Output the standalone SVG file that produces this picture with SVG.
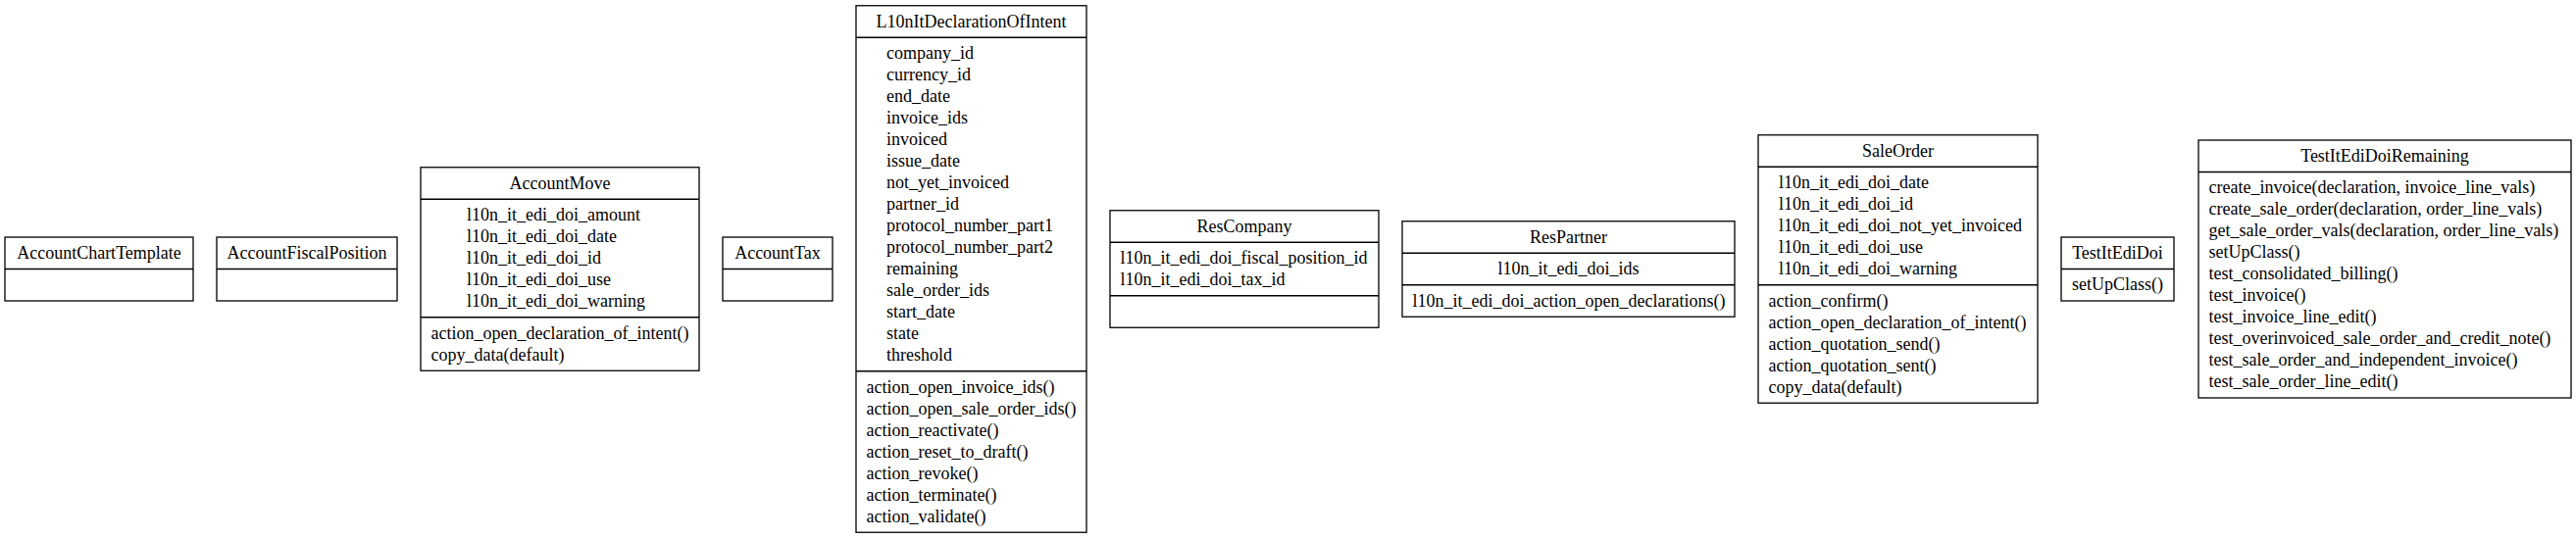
<svg xmlns="http://www.w3.org/2000/svg" width="2627" height="550" viewBox="0 0 2627 550">
<style>
.bg{fill:#fff}
.box{fill:#fff;stroke:#000;stroke-width:1.3}
.sep{stroke:#000;stroke-width:1.3}
text{font-family:"Liberation Serif","Times New Roman",serif;font-size:18px;fill:#000}
.c{text-anchor:middle}
</style>
<rect class="bg" x="0" y="0" width="2627" height="550"/>
<g id="connectors"></g>
<g id="AccountChartTemplate">
<rect class="box" x="5" y="242" width="192" height="65"/>
<line class="sep" x1="5" y1="274.5" x2="197" y2="274.5"/>
<text class="c" x="101" y="263.75">AccountChartTemplate</text>
</g>
<g id="AccountFiscalPosition">
<rect class="box" x="221" y="242" width="184" height="65"/>
<line class="sep" x1="221" y1="274.5" x2="405" y2="274.5"/>
<text class="c" x="313" y="263.75">AccountFiscalPosition</text>
</g>
<g id="AccountMove">
<rect class="box" x="429" y="170.75" width="284" height="207.5"/>
<line class="sep" x1="429" y1="203.25" x2="713" y2="203.25"/>
<line class="sep" x1="429" y1="323.75" x2="713" y2="323.75"/>
<text class="c" x="571" y="192.5">AccountMove</text>
<text x="476" y="225">l10n_it_edi_doi_amount</text>
<text x="476" y="247">l10n_it_edi_doi_date</text>
<text x="476" y="269">l10n_it_edi_doi_id</text>
<text x="476" y="291">l10n_it_edi_doi_use</text>
<text x="476" y="313">l10n_it_edi_doi_warning</text>
<text x="439.5" y="345.5">action_open_declaration_of_intent()</text>
<text x="439.5" y="367.5">copy_data(default)</text>
</g>
<g id="AccountTax">
<rect class="box" x="737" y="242" width="112" height="65"/>
<line class="sep" x1="737" y1="274.5" x2="849" y2="274.5"/>
<text class="c" x="793" y="263.75">AccountTax</text>
</g>
<g id="L10nItDeclarationOfIntent">
<rect class="box" x="873" y="5.75" width="235" height="537.5"/>
<line class="sep" x1="873" y1="38.25" x2="1108" y2="38.25"/>
<line class="sep" x1="873" y1="378.75" x2="1108" y2="378.75"/>
<text class="c" x="990.5" y="27.5">L10nItDeclarationOfIntent</text>
<text x="904" y="60">company_id</text>
<text x="904" y="82">currency_id</text>
<text x="904" y="104">end_date</text>
<text x="904" y="126">invoice_ids</text>
<text x="904" y="148">invoiced</text>
<text x="904" y="170">issue_date</text>
<text x="904" y="192">not_yet_invoiced</text>
<text x="904" y="214">partner_id</text>
<text x="904" y="236">protocol_number_part1</text>
<text x="904" y="258">protocol_number_part2</text>
<text x="904" y="280">remaining</text>
<text x="904" y="302">sale_order_ids</text>
<text x="904" y="324">start_date</text>
<text x="904" y="346">state</text>
<text x="904" y="368">threshold</text>
<text x="883.5" y="400.5">action_open_invoice_ids()</text>
<text x="883.5" y="422.5">action_open_sale_order_ids()</text>
<text x="883.5" y="444.5">action_reactivate()</text>
<text x="883.5" y="466.5">action_reset_to_draft()</text>
<text x="883.5" y="488.5">action_revoke()</text>
<text x="883.5" y="510.5">action_terminate()</text>
<text x="883.5" y="532.5">action_validate()</text>
</g>
<g id="ResCompany">
<rect class="box" x="1132" y="214.75" width="274" height="119.5"/>
<line class="sep" x1="1132" y1="247.25" x2="1406" y2="247.25"/>
<line class="sep" x1="1132" y1="301.75" x2="1406" y2="301.75"/>
<text class="c" x="1269" y="236.5">ResCompany</text>
<text x="1142.5" y="269">l10n_it_edi_doi_fiscal_position_id</text>
<text x="1142.5" y="291">l10n_it_edi_doi_tax_id</text>
</g>
<g id="ResPartner">
<rect class="box" x="1430" y="225.75" width="339" height="97.5"/>
<line class="sep" x1="1430" y1="258.25" x2="1769" y2="258.25"/>
<line class="sep" x1="1430" y1="290.75" x2="1769" y2="290.75"/>
<text class="c" x="1599.5" y="247.5">ResPartner</text>
<text class="c" x="1599.5" y="280">l10n_it_edi_doi_ids</text>
<text x="1440.5" y="312.5">l10n_it_edi_doi_action_open_declarations()</text>
</g>
<g id="SaleOrder">
<rect class="box" x="1793" y="137.75" width="285" height="273.5"/>
<line class="sep" x1="1793" y1="170.25" x2="2078" y2="170.25"/>
<line class="sep" x1="1793" y1="290.75" x2="2078" y2="290.75"/>
<text class="c" x="1935.5" y="159.5">SaleOrder</text>
<text x="1814" y="192">l10n_it_edi_doi_date</text>
<text x="1814" y="214">l10n_it_edi_doi_id</text>
<text x="1814" y="236">l10n_it_edi_doi_not_yet_invoiced</text>
<text x="1814" y="258">l10n_it_edi_doi_use</text>
<text x="1814" y="280">l10n_it_edi_doi_warning</text>
<text x="1803.5" y="312.5">action_confirm()</text>
<text x="1803.5" y="334.5">action_open_declaration_of_intent()</text>
<text x="1803.5" y="356.5">action_quotation_send()</text>
<text x="1803.5" y="378.5">action_quotation_sent()</text>
<text x="1803.5" y="400.5">copy_data(default)</text>
</g>
<g id="TestItEdiDoi">
<rect class="box" x="2102" y="242" width="115" height="65"/>
<line class="sep" x1="2102" y1="274.5" x2="2217" y2="274.5"/>
<text class="c" x="2159.5" y="263.75">TestItEdiDoi</text>
<text class="c" x="2159.5" y="296.25">setUpClass()</text>
</g>
<g id="TestItEdiDoiRemaining">
<rect class="box" x="2242" y="143" width="380" height="263"/>
<line class="sep" x1="2242" y1="175.5" x2="2622" y2="175.5"/>
<text class="c" x="2432" y="164.75">TestItEdiDoiRemaining</text>
<text x="2252.5" y="197.25">create_invoice(declaration, invoice_line_vals)</text>
<text x="2252.5" y="219.25">create_sale_order(declaration, order_line_vals)</text>
<text x="2252.5" y="241.25">get_sale_order_vals(declaration, order_line_vals)</text>
<text x="2252.5" y="263.25">setUpClass()</text>
<text x="2252.5" y="285.25">test_consolidated_billing()</text>
<text x="2252.5" y="307.25">test_invoice()</text>
<text x="2252.5" y="329.25">test_invoice_line_edit()</text>
<text x="2252.5" y="351.25">test_overinvoiced_sale_order_and_credit_note()</text>
<text x="2252.5" y="373.25">test_sale_order_and_independent_invoice()</text>
<text x="2252.5" y="395.25">test_sale_order_line_edit()</text>
</g>
</svg>
